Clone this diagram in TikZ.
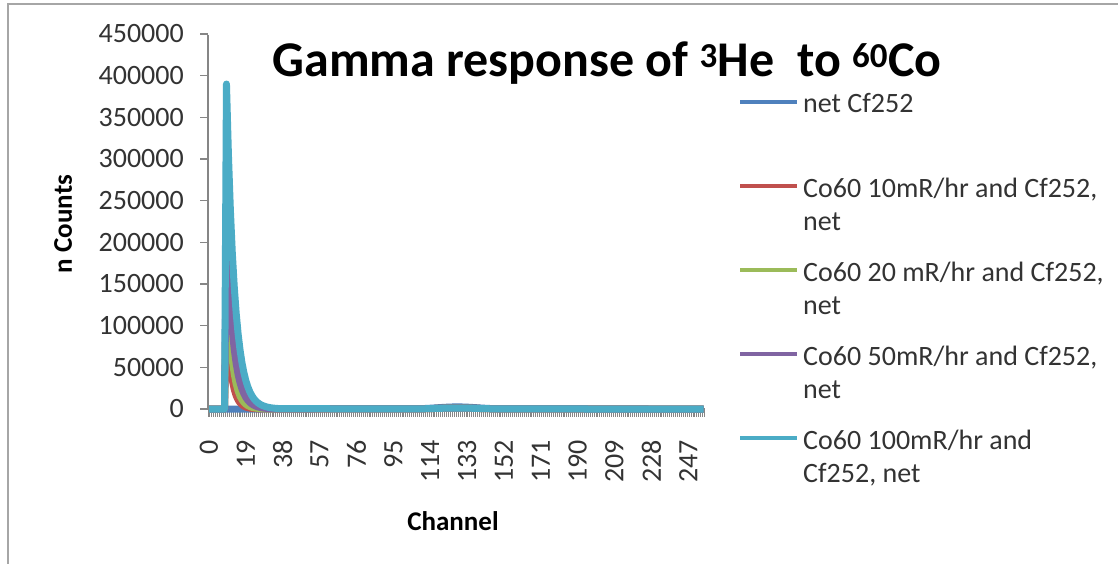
\documentclass[tikz,border=0pt]{standalone}
\usepackage{fontspec}
\setmainfont{Carlito}

\definecolor{cfnet}{HTML}{4F81BD}
\definecolor{coten}{HTML}{C0504D}
\definecolor{cotwenty}{HTML}{9BBB59}
\definecolor{cofifty}{HTML}{8064A2}
\definecolor{cohundred}{HTML}{4BACC6}
\definecolor{axisgray}{HTML}{868686}
\definecolor{framegray}{HTML}{A6A6A6}

\begin{document}
\begin{tikzpicture}[x = 1pt, y = -1pt,
	axis/.style = {axisgray, line width = 1.5pt},
	series/.style = {line width = 7pt, line join = round},
	key/.style = {line width = 4pt},
	ticklabel/.style = {inner sep = 0pt, black!80, font = \fontsize{28}{33}\selectfont},
	axistitle/.style = {inner sep = 0pt, font = \bfseries\fontsize{27}{32}\selectfont}]

	\useasboundingbox [fill = white] (0, 0) rectangle (1118, 564);

	% Chart frame

	\draw [framegray, line width = 2pt] (8, 564) -- (8, 4) -- (1118, 4);

	% Title

	\node (title) at (607, 77) [anchor = base, inner sep = 0pt, font = \bfseries\fontsize{50}{60}\selectfont] {Gamma response of \textsuperscript{3}He\ \ to \textsuperscript{60}Co};

	% Vertical axis with ticks and count labels

	\draw [axis] (208, 35) -- (208, 409);
	\foreach \v in {0, ..., 9}
	{
		\draw [axis] (200, 409 - 41.67*\v) -- (208, 409 - 41.67*\v);
		\node (count-\v) at (184, 409 - 41.67*\v) [ticklabel, anchor = east] {\number\numexpr\v*50000\relax};
	}
	\node (ncounts) at (63, 224) [axistitle, rotate = 90] {n Counts};

	% Horizontal axis: a tick per channel, a label every 19 channels

	\draw [axis] (208, 409) -- (705, 409);
	\foreach \k in {0, ..., 256}
		\draw [axisgray, line width = 1pt] (208 + 1.94*\k, 409) -- (208 + 1.94*\k, 417);
	\foreach \c in {0, 19, ..., 247}
		\node (chan-\c) at (209 + 1.94*\c, 440) [ticklabel, rotate = 90, anchor = east] {\c};
	\node (channel) at (453, 521) [axistitle] {Channel};

	% Spectra, in channels and thousands of counts

	\begin{scope}[shift = {(209, 409)}, x = 1.94pt, y = 0.8333pt]
		\foreach \col / \peak / \tau / \bump in {cfnet/0/4/2.5, coten/110/2.6/1.2, cotwenty/160/3/1.2, cofifty/215/3.65/1.2, cohundred/390/4.1/1.2}
			\draw [series, \col] (0, 0) -- (8, 0) -- plot [domain = 9:36, samples = 28] (\x, {\peak*exp(max(-9, -(\x-9)/\tau))}) -- plot [domain = 96:160, samples = 33] (\x, {\bump*exp(-((\x-128)/14)^2)}) -- (255, 0);
	\end{scope}

	% Legend with a key line left of each entry

	\node (entry-1) at (803, 113) [ticklabel, anchor = base west] {net Cf252};
	\draw [key, cfnet] (entry-1.base west) ++(-63, -11) -- ++(57, 0);
	\foreach \y / \col / \first / \second [count = \i from 2] in {197/coten/{Co60 10mR/hr and Cf252,}/net, 281/cotwenty/{Co60 20 mR/hr and Cf252,}/net, 365/cofifty/{Co60 50mR/hr and Cf252,}/net, 449/cohundred/{Co60 100mR/hr and}/{Cf252, net}}
	{
		\node (entry-\i) at (803, \y) [ticklabel, anchor = base west] {\first};
		\node (entry-\i-b) at (803, \y + 33) [ticklabel, anchor = base west] {\second};
		\draw [key, \col] (entry-\i.base west) ++(-63, -11) -- ++(57, 0);
	}

\end{tikzpicture}
\end{document}
